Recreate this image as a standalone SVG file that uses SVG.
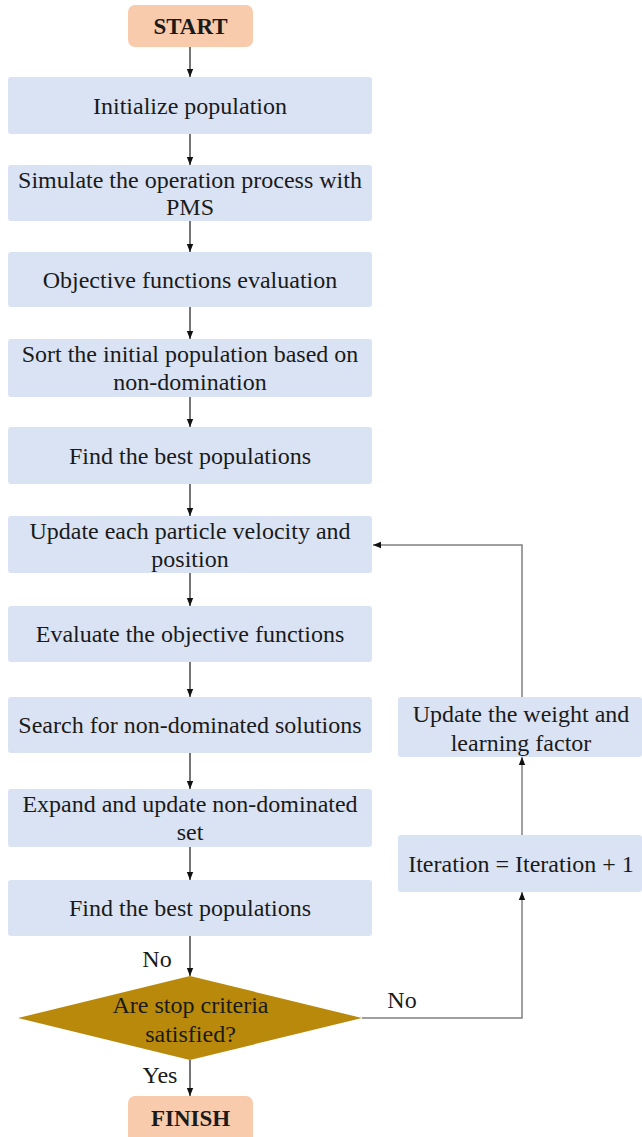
<svg xmlns="http://www.w3.org/2000/svg" width="642" height="1137" viewBox="0 0 642 1137">
<style>
.box{fill:#dae3f3}
.term{fill:#f8cbad}
.dec{fill:#b8890b}
text{font-family:"Times New Roman",Times,"Liberation Serif","DejaVu Serif",serif;font-size:24px;fill:#1a1a1a;text-anchor:middle}
.bold{font-weight:bold;font-size:23px}
.c{stroke:#1a1a1a;stroke-width:1.2;fill:none}
.g{stroke:#808080;stroke-width:1.5;fill:none}
</style>
<defs>
<marker id="ah" markerUnits="userSpaceOnUse" markerWidth="8" markerHeight="8" viewBox="0 0 8 8" refX="8" refY="4" orient="auto">
<path d="M0,0.8 L8,4 L0,7.2 Z" fill="#111"/>
</marker>
</defs>
<rect width="642" height="1137" fill="#fff"/>

<g id="connectors">
<line class="c" x1="190" y1="47" x2="190" y2="77" marker-end="url(#ah)"/>
<line class="c" x1="190" y1="134" x2="190" y2="165" marker-end="url(#ah)"/>
<line class="c" x1="190" y1="221" x2="190" y2="252" marker-end="url(#ah)"/>
<line class="c" x1="190" y1="307" x2="190" y2="339" marker-end="url(#ah)"/>
<line class="c" x1="190" y1="397" x2="190" y2="427" marker-end="url(#ah)"/>
<line class="c" x1="190" y1="484" x2="190" y2="516" marker-end="url(#ah)"/>
<line class="c" x1="190" y1="573" x2="190" y2="606" marker-end="url(#ah)"/>
<line class="c" x1="190" y1="662" x2="190" y2="697" marker-end="url(#ah)"/>
<line class="c" x1="190" y1="753" x2="190" y2="789" marker-end="url(#ah)"/>
<line class="c" x1="190" y1="847" x2="190" y2="880" marker-end="url(#ah)"/>
<line class="c" x1="190" y1="936" x2="190" y2="976" marker-end="url(#ah)"/>
<line class="c" x1="190" y1="1060" x2="190" y2="1096" marker-end="url(#ah)"/>
<polyline class="g" points="362,1018 522,1018 522,892" marker-end="url(#ah)"/>
<line class="g" x1="522" y1="835" x2="522" y2="757" marker-end="url(#ah)"/>
<polyline class="g" points="522,697 522,545 373,545" marker-end="url(#ah)"/>
<text x="157" y="967">No</text>
<text x="402" y="1008">No</text>
<text x="160" y="1083">Yes</text>
</g>

<g id="start"><rect class="term" x="128" y="5" width="125" height="42" rx="7"/><text class="bold" x="190.5" y="34">START</text></g>
<g id="n1"><rect class="box" x="8" y="77" width="364" height="57" rx="3"/><text x="190" y="113.5">Initialize population</text></g>
<g id="n2"><rect class="box" x="8" y="165" width="364" height="56" rx="3"/><text x="190" y="188">Simulate the operation process with</text><text x="190" y="215">PMS</text></g>
<g id="n3"><rect class="box" x="8" y="252" width="364" height="55" rx="3"/><text x="190" y="287.5">Objective functions evaluation</text></g>
<g id="n4"><rect class="box" x="8" y="339" width="364" height="58" rx="3"/><text x="190" y="362">Sort the initial population based on</text><text x="190" y="390">non-domination</text></g>
<g id="n5"><rect class="box" x="8" y="427" width="364" height="57" rx="3"/><text x="190" y="463.5">Find the best populations</text></g>
<g id="n6"><rect class="box" x="8" y="516" width="364" height="57" rx="3"/><text x="190" y="539">Update each particle velocity and</text><text x="190" y="567">position</text></g>
<g id="n7"><rect class="box" x="8" y="606" width="364" height="56" rx="3"/><text x="190" y="642">Evaluate the objective functions</text></g>
<g id="n8"><rect class="box" x="8" y="697" width="364" height="56" rx="3"/><text x="190" y="733">Search for non-dominated solutions</text></g>
<g id="n9"><rect class="box" x="8" y="789" width="364" height="58" rx="3"/><text x="190" y="812">Expand and update non-dominated</text><text x="190" y="840">set</text></g>
<g id="n10"><rect class="box" x="8" y="880" width="364" height="56" rx="3"/><text x="190" y="916">Find the best populations</text></g>
<g id="decision"><polygon class="dec" points="190,976 362,1018 190,1060 18,1018"/><text x="190.5" y="1013">Are stop criteria</text><text x="190.5" y="1042">satisfied?</text></g>
<g id="finish"><rect class="term" x="128" y="1096" width="125" height="48" rx="7"/><text class="bold" x="190.5" y="1126">FINISH</text></g>
<g id="iter"><rect class="box" x="398" y="835" width="244" height="57" rx="3"/><text x="521" y="872">Iteration = Iteration + 1</text></g>
<g id="upd"><rect class="box" x="398" y="697" width="244" height="60" rx="3"/><text x="521" y="722">Update the weight and</text><text x="521" y="751">learning factor</text></g>
</svg>
